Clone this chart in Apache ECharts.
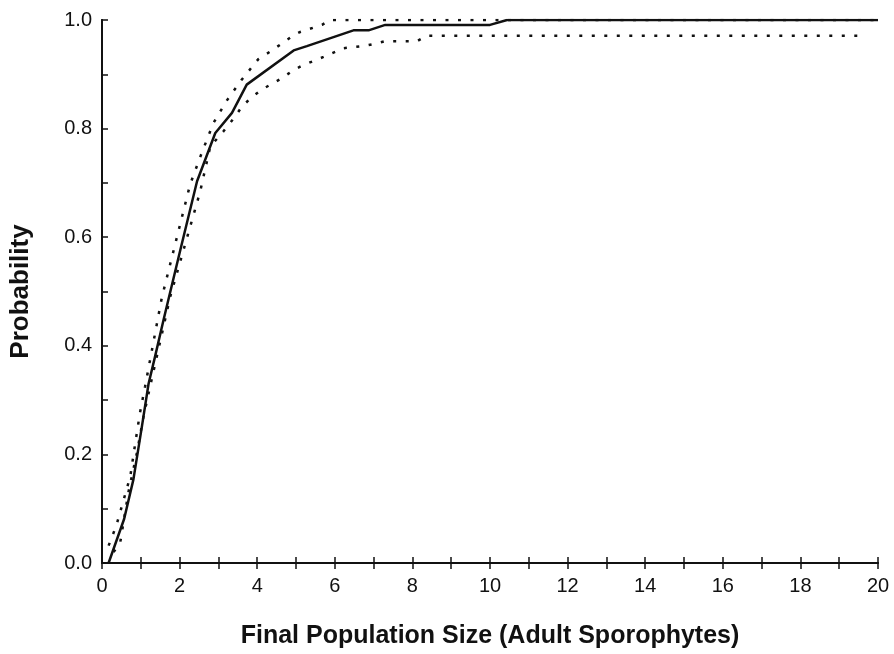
<!DOCTYPE html>
<html>
<head>
<meta charset="utf-8">
<script src="https://cdn.jsdelivr.net/npm/echarts@6/dist/echarts.min.js"></script>
<style>
  html, body { margin: 0; padding: 0; background: #fff; }
  #chart { width: 894px; height: 654px; }
</style>
</head>
<body>
<div id="chart"></div>
<script>
// values
const solidX = [0.17, 0.57, 0.81, 1.03, 1.2, 1.37, 1.59, 2.02, 2.45, 2.92, 3.35, 3.73, 4.94, 5.28, 6.48, 6.87, 7.3, 10.0, 10.44, 20]
const solidY = [0, 0.081, 0.154, 0.252, 0.33, 0.381, 0.449, 0.577, 0.703, 0.792, 0.829, 0.881, 0.944, 0.952, 0.981, 0.981, 0.991, 0.991, 1.0, 1.0]

const upperX = [0.17, 0.37, 0.6, 0.73, 0.86, 0.98, 1.11, 1.54, 2.27, 2.57, 2.87, 3.22, 3.6, 4.03, 4.34, 4.94, 5.11, 5.67, 5.88, 20]
const upperY = [0.032, 0.069, 0.127, 0.16, 0.222, 0.277, 0.325, 0.488, 0.697, 0.755, 0.81, 0.852, 0.89, 0.928, 0.942, 0.972, 0.978, 0.991, 1.0, 1.0]

const lowerX = [0.3, 0.47, 0.68, 0.9, 1.07, 1.28, 1.76, 2.53, 2.79, 3.13, 3.43, 3.6, 3.86, 4.12, 4.64, 4.94, 5.19, 5.71, 6.22, 6.74, 7.08, 7.3, 8.12, 8.37, 19.6]
const lowerY = [0.02, 0.038, 0.13, 0.203, 0.27, 0.338, 0.491, 0.684, 0.767, 0.795, 0.822, 0.84, 0.858, 0.872, 0.893, 0.908, 0.917, 0.932, 0.948, 0.952, 0.957, 0.961, 0.961, 0.971, 0.971]

const zip = (xs, ys) => xs.map((x, i) => [x, ys[i]])

const ink = '#111'
const font = 'Liberation Sans, Arial, sans-serif'
const tickStyle = { color: ink, width: 1.5 }

const chart = echarts.init(document.getElementById('chart'))

const options = {
    backgroundColor: '#fff',
    animation: false,
    grid: { left: 102, right: 16, top: 20, bottom: 90 },
    xAxis: [
        {
            type: 'value', min: 0, max: 20, interval: 2,
            name: 'Final Population Size (Adult Sporophytes)',
            nameLocation: 'middle', nameGap: 61,
            nameTextStyle: { fontFamily: font, fontWeight: 'bold', fontSize: 25, color: ink },
            axisLine: { lineStyle: { color: ink, width: 2 } },
            axisTick: { inside: true, length: 6, lineStyle: tickStyle },
            minorTick: { show: true, splitNumber: 2, length: 6, lineStyle: tickStyle },
            axisLabel: { fontFamily: font, fontSize: 20, color: ink, margin: 13 },
            splitLine: { show: false }
        },
        {
            type: 'value', min: 0, max: 20, interval: 2, position: 'top',
            axisLine: { lineStyle: { color: ink, width: 2 } },
            axisTick: { inside: true, length: 6, lineStyle: tickStyle },
            minorTick: { show: true, splitNumber: 2, length: 6, lineStyle: tickStyle },
            axisLabel: { show: false },
            splitLine: { show: false }
        }
    ],
    yAxis: [
        {
            type: 'value', min: 0, max: 1, interval: 0.2,
            name: 'Probability',
            nameLocation: 'middle', nameGap: 68,
            nameTextStyle: { fontFamily: font, fontWeight: 'bold', fontSize: 26, color: ink },
            axisLine: { show: true, lineStyle: { color: ink, width: 2 } },
            axisTick: { inside: true, length: 6, lineStyle: tickStyle },
            minorTick: { show: true, splitNumber: 2, length: 6, lineStyle: tickStyle },
            axisLabel: { fontFamily: font, fontSize: 20, color: ink, margin: 10, formatter: v => v.toFixed(1) },
            splitLine: { show: false }
        },
        {
            type: 'value', min: 0, max: 1, position: 'right',
            axisLine: { show: true, lineStyle: { color: ink, width: 2 } },
            axisTick: { show: false },
            axisLabel: { show: false },
            splitLine: { show: false }
        }
    ],
    series: [
        {
            name: 'estimate', type: 'line', data: zip(solidX, solidY),
            symbol: 'none', lineStyle: { color: ink, width: 2.5 }
        },
        {
            name: 'upper', type: 'line', data: zip(upperX, upperY),
            symbol: 'none', lineStyle: { color: ink, width: 2.5, type: [3, 9.5] }
        },
        {
            name: 'lower', type: 'line', data: zip(lowerX, lowerY),
            symbol: 'none', lineStyle: { color: ink, width: 2.5, type: [3, 9.5] }
        }
    ]
}
chart.setOption(options)
</script>
</body>
</html>
